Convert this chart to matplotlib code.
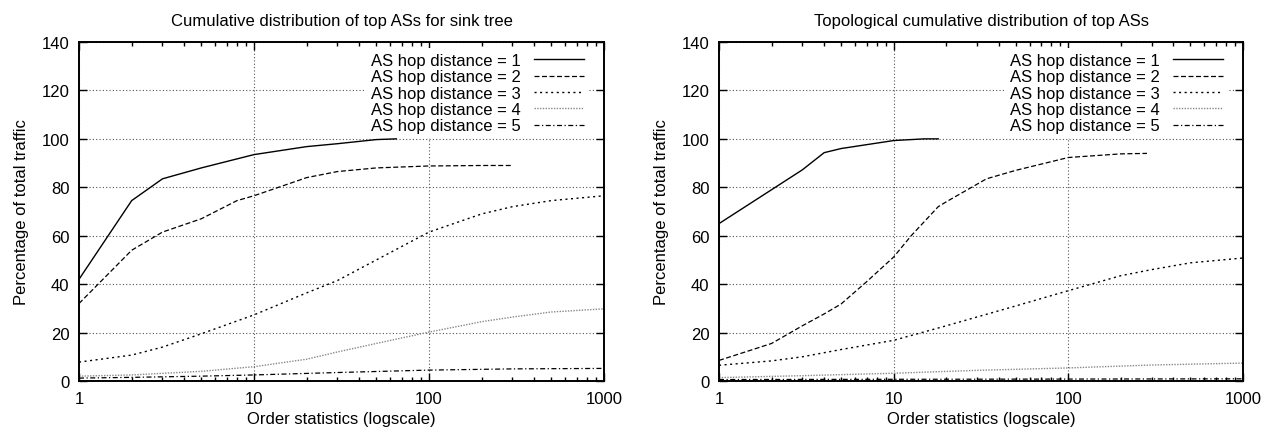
import numpy as np
import matplotlib.pyplot as plt
from matplotlib.ticker import FixedLocator, LogLocator, NullFormatter

plt.rcParams['font.family'] = ['Liberation Sans', 'DejaVu Sans']
plt.rcParams['font.size'] = 12

# === DATA: left panel (sink tree) ===
left_title = "Cumulative distribution of top ASs for sink tree"
L1_x = [1, 2, 3, 5, 10, 20, 30, 50, 65]
L1_y = [42, 74.5, 83.5, 88, 93.5, 96.8, 98, 99.7, 100]
L2_x = [1, 2, 3, 5, 8, 10, 20, 30, 50, 100, 200, 302]
L2_y = [32, 54, 61.5, 67, 74.5, 76.5, 84, 86.5, 88, 88.8, 89, 89]
L3_x = [1, 2, 3, 5, 10, 20, 30, 50, 100, 200, 300, 500, 1000]
L3_y = [7.8, 10.7, 14, 19.5, 27.3, 36.4, 41.5, 50, 61.5, 69, 72, 74.5, 76.5]
L4_x = [1, 2, 5, 10, 20, 30, 50, 100, 200, 300, 500, 1000]
L4_y = [2, 2.5, 4, 5.9, 9, 12, 15.5, 20.2, 24.5, 26.4, 28.5, 29.8]
L5_x = [1, 2, 5, 10, 30, 100, 300, 1000]
L5_y = [1.2, 1.5, 2, 2.5, 3.5, 4.5, 5, 5.2]

# === DATA: right panel (topological) ===
right_title = "Topological cumulative distribution of top ASs"
R1_x = [1, 2, 3, 4, 5, 10, 15, 18]
R1_y = [65, 79, 87.2, 94.3, 96, 99.3, 100, 100]
R2_x = [1, 2, 3, 4, 5, 7, 10, 12.6, 18, 20, 34, 50, 100, 200, 282]
R2_y = [8.5, 15.5, 22.8, 27.7, 31.8, 41, 51.2, 60, 72, 74, 83.5, 87, 92.3, 93.8, 94]
R3_x = [1, 2, 3, 5, 10, 20, 50, 100, 200, 300, 500, 1000]
R3_y = [6.5, 8.3, 10, 13, 16.8, 22.8, 31, 37.3, 43.5, 46, 48.8, 50.8]
R4_x = [1, 3, 10, 30, 100, 300, 1000]
R4_y = [1.4, 2.2, 3.2, 4.4, 5.4, 6.6, 7.4]
R5_x = [1, 10, 100, 1000]
R5_y = [0.6, 0.7, 0.8, 0.9]

labels = ["AS hop distance = %d" % i for i in range(1, 6)]
x_ticks = [1, 10, 100, 1000]
y_ticks = [0, 20, 40, 60, 80, 100, 120, 140]

# line styles, gnuplot-ish
styles = [
    dict(color='black', ls='-', lw=1.0),
    dict(color='black', ls=(0, (4, 2)), lw=0.9),
    dict(color='black', ls=(0, (1.5, 2.5)), lw=1.0),
    dict(color='#888888', ls=(0, (1, 1)), lw=1.0),
    dict(color='black', ls=(0, (4, 2, 1, 2)), lw=0.9),
]

fig = plt.figure(figsize=(12.71, 4.39), dpi=100)
ax_l = fig.add_axes([79 / 1271, 57 / 439, 525 / 1271, 339 / 439])
ax_r = fig.add_axes([719 / 1271, 57 / 439, 524 / 1271, 339 / 439])

panels = [
    (ax_l, left_title, [(L1_x, L1_y), (L2_x, L2_y), (L3_x, L3_y), (L4_x, L4_y), (L5_x, L5_y)]),
    (ax_r, right_title, [(R1_x, R1_y), (R2_x, R2_y), (R3_x, R3_y), (R4_x, R4_y), (R5_x, R5_y)]),
]

for ax, title, series in panels:
    for (xs, ys), st, lab in zip(series, styles, labels):
        ax.plot(xs, ys, label=lab, **st)

    ax.set_xscale('log')
    ax.set_xlim(1, 1000)
    ax.set_ylim(0, 140)
    ax.xaxis.set_major_locator(FixedLocator(x_ticks))
    ax.set_xticklabels([str(t) for t in x_ticks])
    ax.xaxis.set_minor_locator(LogLocator(base=10, subs=np.arange(2, 10)))
    ax.xaxis.set_minor_formatter(NullFormatter())
    ax.set_yticks(y_ticks)

    ax.tick_params(which='both', direction='in', top=True, right=True, pad=7)
    ax.tick_params(which='major', length=6, width=1)
    ax.tick_params(which='minor', length=3, width=1)
    for sp in ax.spines.values():
        sp.set_linewidth(1.4)

    ax.grid(True, which='major', color='#555555', ls=(0, (1, 2)), lw=0.8)

    ax.set_title(title, fontsize=12, pad=12.5)
    ax.set_xlabel("Order statistics (logscale)", labelpad=4)
    ax.set_ylabel("Percentage of total traffic", labelpad=9)

    leg = ax.legend(loc='upper right', bbox_to_anchor=(0.971, 0.982),
                    markerfirst=False, frameon=True, fancybox=False,
                    borderpad=0.3, borderaxespad=0, labelspacing=0.08,
                    handlelength=3.0, handletextpad=0.8, fontsize=12)
    leg.get_frame().set_facecolor('white')
    leg.get_frame().set_edgecolor('none')
    leg.get_frame().set_alpha(1)

fig.savefig('out.png', dpi=100)
